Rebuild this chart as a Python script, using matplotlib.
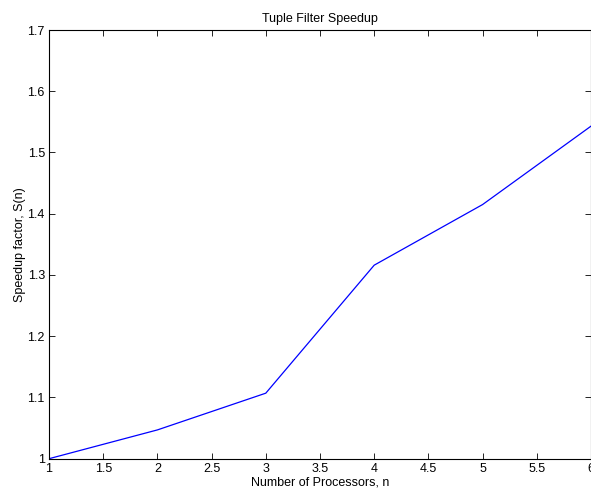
"""
Tuple filter speedup versus number of processors (MATLAB-style line plot).
"""

import matplotlib
matplotlib.use("Agg")
import matplotlib.pyplot as plt
from matplotlib.ticker import FuncFormatter

plt.rcParams["font.family"] = ["Liberation Sans", "DejaVu Sans"]
plt.rcParams["font.size"] = 9

processors = [1, 2, 3, 4, 5, 6]
speedup = [1.0, 1.047, 1.107, 1.316, 1.415, 1.543]

x_ticks = [1, 1.5, 2, 2.5, 3, 3.5, 4, 4.5, 5, 5.5, 6]
y_ticks = [1, 1.1, 1.2, 1.3, 1.4, 1.5, 1.6, 1.7]


def main():
    fig = plt.figure(figsize=(5.91, 4.90), dpi=100)
    ax = fig.add_axes([49 / 591, 31.3 / 490, 542 / 591, 428.7 / 490])

    ax.plot(processors, speedup, color="#0000ff", linewidth=0.9)

    ax.set_xlim(1, 6)
    ax.set_ylim(1, 1.7)
    ax.set_xticks(x_ticks)
    ax.set_yticks(y_ticks)
    fmt = FuncFormatter(lambda v, pos: f"{v:g}")
    ax.xaxis.set_major_formatter(fmt)
    ax.yaxis.set_major_formatter(fmt)
    ax.tick_params(direction="in", length=4, width=0.6, top=True, right=True,
                   labelsize=9, pad=3)
    for sp in ax.spines.values():
        sp.set_linewidth(0.8)

    ax.set_title("Tuple Filter Speedup", fontsize=9, pad=6)
    ax.set_xlabel("Number of Processors, n", fontsize=9, labelpad=1)
    ax.set_ylabel("Speedup factor, S(n)", fontsize=9, labelpad=1)

    fig.savefig("out.png", dpi=100)


if __name__ == "__main__":
    main()
